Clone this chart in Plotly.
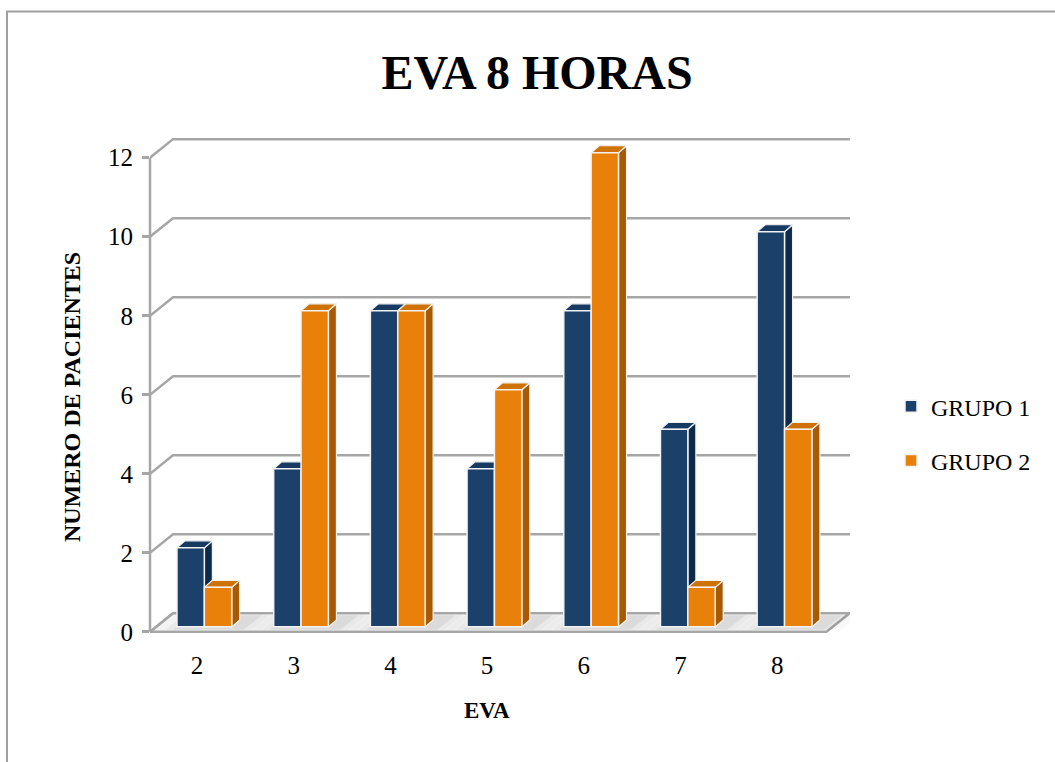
import plotly.graph_objects as go

# ---- data -------------------------------------------------------------
EVA = [2, 3, 4, 5, 6, 7, 8]
GRUPO_1 = [2, 4, 8, 4, 8, 5, 10]
GRUPO_2 = [1, 8, 8, 6, 12, 1, 5]
Y_TICKS = [0, 2, 4, 6, 8, 10, 12]

# ---- page / plot-area geometry ---------------------------------------
W, H = 1055, 762
PX_X, PX_Y = 96.7, 39.55          # pixels per x unit / per y unit
X_RANGE = [1.514, 8.753]
Y_RANGE = [-0.08, 12.6]
Y0_PX = 632                        # pixel row of y = 0
M_L = 150
M_R = W - M_L - round((X_RANGE[1] - X_RANGE[0]) * PX_X)
M_B = H - (Y0_PX - Y_RANGE[0] * PX_Y)
M_T = H - M_B - (Y_RANGE[1] - Y_RANGE[0]) * PX_Y
PLOT_W = W - M_L - M_R
PLOT_H = H - M_T - M_B

# 3-D look: depth of the chart box and of each bar (in axis units)
BOX_DX, BOX_DY = 0.238, 0.47
BAR_DX, BAR_DY = 0.083, 0.177
BAR_BASE = 0.126
BAR_W = 0.283
OFFSETS = [-0.207, 0.076]
FLOOR_RIGHT = 8.51

FONT = "Liberation Serif"
GRID = "#A6A6A6"
FACE = {
    "g1": dict(front="#1B416B", side="#0E2A4B", top="#173A63"),
    "g2": dict(front="#E8800A", side="#A85A02", top="#CF7204"),
}

shapes = []


def poly(pts, fill, line="#F2F2F2", width=1.2, layer="below"):
    path = "M " + " L ".join(f"{x},{y}" for x, y in pts) + " Z"
    shapes.append(dict(type="path", path=path, xref="x", yref="y",
                       fillcolor=fill, line=dict(color=line, width=width),
                       layer=layer))


def px_to_paper_x(px):
    return (px - M_L) / PLOT_W


def px_to_paper_y(py):
    return (H - M_B - py) / PLOT_H


# outer chart frame
shapes.append(dict(type="rect", xref="paper", yref="paper",
                   x0=px_to_paper_x(7), x1=px_to_paper_x(W + 20),
                   y0=px_to_paper_y(H + 20), y1=px_to_paper_y(11),
                   line=dict(color="#A0A0A0", width=2), layer="below"))

# floor slab
x0 = X_RANGE[0]
poly([(x0, 0), (FLOOR_RIGHT, 0), (FLOOR_RIGHT + BOX_DX, BOX_DY),
      (x0 + BOX_DX, BOX_DY)], fill="#FAFAFA", line=GRID, width=2.5)

# soft shadows on the floor around each bar pair
for c in EVA:
    left = c + OFFSETS[0]
    right = c + OFFSETS[1] + BAR_W + BAR_DX
    for spread, alpha in [(0.22, 0.05), (0.12, 0.08), (0.04, 0.11)]:
        poly([(left - spread, 0.05), (right + spread, 0.05),
              (right + spread + BOX_DX * 0.8, BOX_DY - 0.05),
              (left - spread + BOX_DX * 0.8, BOX_DY - 0.05)],
             fill=f"rgba(110,110,110,{alpha})", line="rgba(0,0,0,0)", width=0)

# side wall diagonals and back-wall gridlines
for v in Y_TICKS[1:]:
    shapes.append(dict(type="path", xref="x", yref="y", layer="below",
                       path=f"M {x0},{v} L {x0 + BOX_DX},{v + BOX_DY} "
                            f"L {X_RANGE[1]},{v + BOX_DY}",
                       line=dict(color=GRID, width=2.5)))
shapes.append(dict(type="path", xref="x", yref="y", layer="below",
                   path=f"M {x0},0 L {x0 + BOX_DX},{BOX_DY}",
                   line=dict(color=GRID, width=2.5)))

# front value axis line (0 .. 12)
shapes.append(dict(type="line", xref="paper", yref="y", x0=0, x1=0,
                   y0=0, y1=Y_TICKS[-1], line=dict(color=GRID, width=2.5),
                   layer="below"))

# side and top faces of every bar (front faces are the Bar traces)
for key, vals, off in [("g1", GRUPO_1, OFFSETS[0]), ("g2", GRUPO_2, OFFSETS[1])]:
    for c, v in zip(EVA, vals):
        xl = c + off
        xr = xl + BAR_W
        b = BAR_BASE
        top = BAR_BASE + v
        poly([(xr, b), (xr, top), (xr + BAR_DX, top + BAR_DY),
              (xr + BAR_DX, b + BAR_DY)], fill=FACE[key]["side"])
        poly([(xl, top), (xr, top), (xr + BAR_DX, top + BAR_DY),
              (xl + BAR_DX, top + BAR_DY)], fill=FACE[key]["top"])

fig = go.Figure()
for name, key, vals, off in [("GRUPO 1", "g1", GRUPO_1, OFFSETS[0]),
                             ("GRUPO 2", "g2", GRUPO_2, OFFSETS[1])]:
    fig.add_trace(go.Bar(
        x=EVA, y=vals, base=BAR_BASE, name=name, legendgroup=name,
        offset=off, width=BAR_W,
        marker=dict(color=FACE[key]["front"],
                    line=dict(color="#F2F2F2", width=1.5)),
    ))

fig.update_layout(
    width=W, height=H,
    margin=dict(l=M_L, r=M_R, t=M_T, b=M_B, autoexpand=False),
    paper_bgcolor="white", plot_bgcolor="rgba(0,0,0,0)",
    barmode="overlay",
    showlegend=True,
    title=dict(text="<b>EVA 8 HORAS</b>", x=537 / W, xanchor="center",
               xref="container",
               y=1 - 72 / H, yanchor="middle", yref="container",
               font=dict(family=FONT, size=48, color="black")),
    legend=dict(x=px_to_paper_x(891), xanchor="left",
                y=px_to_paper_y(384), yanchor="top",
                font=dict(family=FONT, size=24, color="black"),
                tracegroupgap=20, bgcolor="rgba(0,0,0,0)"),
    xaxis=dict(range=X_RANGE, tickmode="array", tickvals=EVA,
               ticktext=[str(e) for e in EVA], showgrid=False,
               zeroline=False, showline=False, ticks="",
               ticklabelstandoff=13,
               tickfont=dict(family=FONT, size=25, color="black")),
    yaxis=dict(range=Y_RANGE, tickmode="array", tickvals=Y_TICKS,
               showgrid=False, zeroline=False, showline=False,
               ticks="outside", ticklen=7, tickwidth=2.5, tickcolor=GRID,
               ticklabelstandoff=4,
               tickfont=dict(family=FONT, size=25, color="black")),
    shapes=shapes,
    annotations=[
        dict(text="<b>NUMERO DE PACIENTES</b>", textangle=-90,
             xref="paper", yref="paper", x=px_to_paper_x(72),
             y=px_to_paper_y(397), xanchor="center", yanchor="middle",
             showarrow=False, font=dict(family=FONT, size=24, color="black")),
        dict(text="<b>EVA</b>", xref="paper", yref="paper",
             x=px_to_paper_x(487), y=px_to_paper_y(711),
             xanchor="center", yanchor="middle", showarrow=False,
             font=dict(family=FONT, size=23, color="black")),
    ],
)

fig.write_html("out.html")
